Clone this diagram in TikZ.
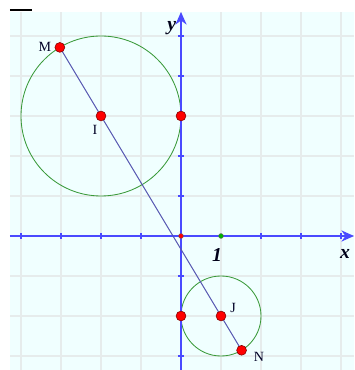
\documentclass[tikz,border=0pt]{standalone}
\usepackage{fontspec}
\setmainfont{Liberation Serif}
\usetikzlibrary{arrows.meta}
\definecolor{bgc}{HTML}{F0FFFF}
\definecolor{gridc}{HTML}{E6ECEC}
\definecolor{axisc}{HTML}{4A4AFF}
\definecolor{linec}{HTML}{5555B0}
\definecolor{circc}{HTML}{3A9A3A}
\tikzset{
  gridline/.style={draw=gridc, line width=1.3pt},
  axisline/.style={draw=axisc, line width=1pt},
  tickmark/.style={draw=axisc, line width=0.8pt},
  redpt/.style={circle, fill=red, draw=red!50!black, line width=0.4pt, inner sep=0pt, minimum size=7pt},
  smallpt/.style={circle, draw=black!60, line width=0.3pt, inner sep=0pt, minimum size=3.5pt},
  ptlabel/.style={font=\fontsize{10}{12}\selectfont, text=black!85!blue},
  axlabel/.style={font=\fontsize{14}{16}\selectfont\bfseries\itshape, text=black!90!blue},
}
\begin{document}
\begin{tikzpicture}
\useasboundingbox (-4.525,-3.35) rectangle (4.325,5.9);
\fill[bgc] (-4.275,-3.35) rectangle (4.325,5.6);
\begin{scope}
\clip (-4.275,-3.35) rectangle (4.325,5.6);
\foreach \i in {-4,...,4} \draw[gridline] (\i,-3.35) -- (\i,5.6);
\foreach \j in {-3,...,5} \draw[gridline] (-4.275,\j) -- (4.325,\j);
\end{scope}
\draw[black, line width=1.4pt] (-4.275,5.66) -- (-3.725,5.66);
% circles
\node[draw=circc, line width=0.6pt, circle, minimum size=4cm, inner sep=0pt] (cI) at (-2,3) {};
\node[draw=circc, line width=0.6pt, circle, minimum size=2cm, inner sep=0pt] (cJ) at (1,-2) {};
% axes
\coordinate (xs) at (-4.275,0);
\coordinate (xe) at (4.325,0);
\coordinate (ys) at (0,-3.35);
\coordinate (ye) at (0,5.6);
\draw[axisline, -{Stealth[length=9pt,width=8pt]}] (xs) -- (xe);
\draw[axisline, -{Stealth[length=9pt,width=8pt]}] (ys) -- (ye);
\foreach \i in {-4,-3,-2,-1,2,3,4} \draw[tickmark] (\i,-0.08) -- (\i,0.08);
\foreach \j in {-3,-2,-1,1,2,3,4,5} \draw[tickmark] (-0.08,\j) -- (0.08,\j);
% line MN
\coordinate (M) at (-3.0290,4.7150);
\coordinate (N) at (1.5145,-2.8575);
\draw[linec, line width=0.7pt] (M) -- (N);
% points
\node[redpt] (pM) at (M) {};
\node[redpt] (pN) at (N) {};
\node[redpt] (pI) at (-2,3) {};
\node[redpt] (pJ) at (1,-2) {};
\node[redpt] (pT1) at (0,3) {};
\node[redpt] (pT2) at (0,-2) {};
\node[smallpt, fill=red] (pO) at (0,0) {};
\node[smallpt, fill=green!70!black] (pU) at (1,0) {};
% labels
\node[ptlabel] (lM) at (-3.4,4.72) {M};
\node[ptlabel] (lI) at (-2.15,2.65) {I};
\node[ptlabel] (lJ) at (1.3,-1.8) {J};
\node[ptlabel] (lN) at (1.95,-3.02) {N};
\node[axlabel] (ly) at (-0.23,5.2) {y};
\node[axlabel] (lx) at (4.1,-0.46) {x};
\node[axlabel] (l1) at (0.9,-0.48) {1};
\end{tikzpicture}
\end{document}
